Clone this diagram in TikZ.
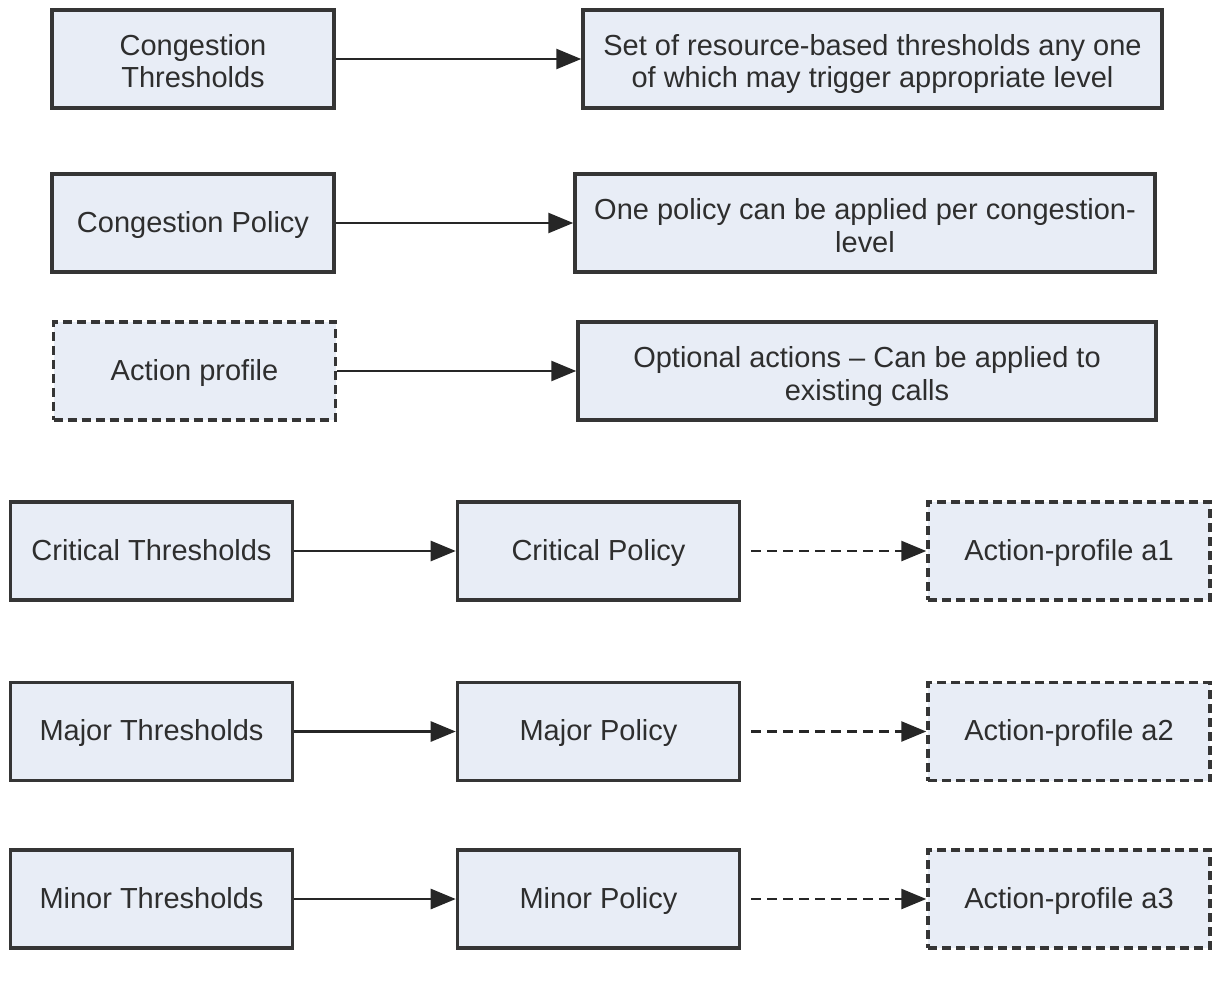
\documentclass[tikz,border=0pt]{standalone}
\usepackage{fontspec}
\setsansfont{Liberation Sans}
\usetikzlibrary{arrows.meta}

\definecolor{boxfill}{HTML}{E8EDF6}
\definecolor{boxline}{HTML}{353535}
\definecolor{boxtext}{HTML}{2E2E2E}

\newcommand{\boxstrut}{\rule[-5pt]{0pt}{20.5pt}}

\begin{document}
\begin{tikzpicture}[
    box/.style={draw=boxline, fill=boxfill, line width=2pt, text=boxtext,
        minimum width=5.64cm, minimum height=1.96cm, align=center, inner sep=2pt,
        execute at begin node=\boxstrut, execute at end node=\boxstrut},
    twoline/.style={text height=38pt},
    widebox/.style={box, twoline, minimum width=11.58cm},
    dashbox/.style={box, dash pattern=on 0.18cm off 0.1cm},
    solid_arrow/.style={-{Triangle[length=0.5cm, width=0.4cm]}, line width=1.5pt, draw=black!85},
    dash_arrow/.style={solid_arrow, dash pattern=on 0.2cm off 0.12cm, shorten <=0.2cm},
    font=\sffamily\fontsize{16.5}{18.5}\selectfont
]

\useasboundingbox (0,0) rectangle (24.28,-19.6);

% --- Legend (top) ---
\node[box, twoline] (congthr) at (3.86,-1.18) {Congestion\\Thresholds};
\node[widebox] (congthrtxt) at (17.45,-1.18) {Set of resource-based thresholds any one\\of which may trigger appropriate level};

\node[box] (congpol) at (3.86,-4.46) {Congestion Policy};
\node[widebox, minimum width=11.6cm] (congpoltxt) at (17.30,-4.46) {One policy can be applied per congestion-\\level};

\node[dashbox] (actprof) at (3.89,-7.42) {Action profile};
\node[widebox, minimum width=11.56cm] (actproftxt) at (17.34,-7.42) {Optional actions -- Can be applied to\\existing calls};

\draw[solid_arrow] (congthr) -- (congthrtxt);
\draw[solid_arrow] (congpol) -- (congpoltxt);
\draw[solid_arrow] (actprof) -- (actproftxt);

% --- Critical level ---
\node[box] (critthr) at (3.03,-11.02) {Critical Thresholds};
\node[box] (critpol) at (11.97,-11.02) {Critical Policy};
\node[dashbox] (a1) at (21.38,-11.02) {Action-profile a1};

\draw[solid_arrow] (critthr) -- (critpol);
\draw[dash_arrow] (critpol) -- (a1);

% --- Major level ---
\node[box] (majthr) at (3.03,-14.63) {Major Thresholds};
\node[box] (majpol) at (11.97,-14.63) {Major Policy};
\node[dashbox] (a2) at (21.38,-14.63) {Action-profile a2};

\draw[solid_arrow] (majthr) -- (majpol);
\draw[dash_arrow] (majpol) -- (a2);

% --- Minor level ---
\node[box] (minthr) at (3.03,-17.98) {Minor Thresholds};
\node[box] (minpol) at (11.97,-17.98) {Minor Policy};
\node[dashbox] (a3) at (21.38,-17.98) {Action-profile a3};

\draw[solid_arrow] (minthr) -- (minpol);
\draw[dash_arrow] (minpol) -- (a3);

\end{tikzpicture}
\end{document}
